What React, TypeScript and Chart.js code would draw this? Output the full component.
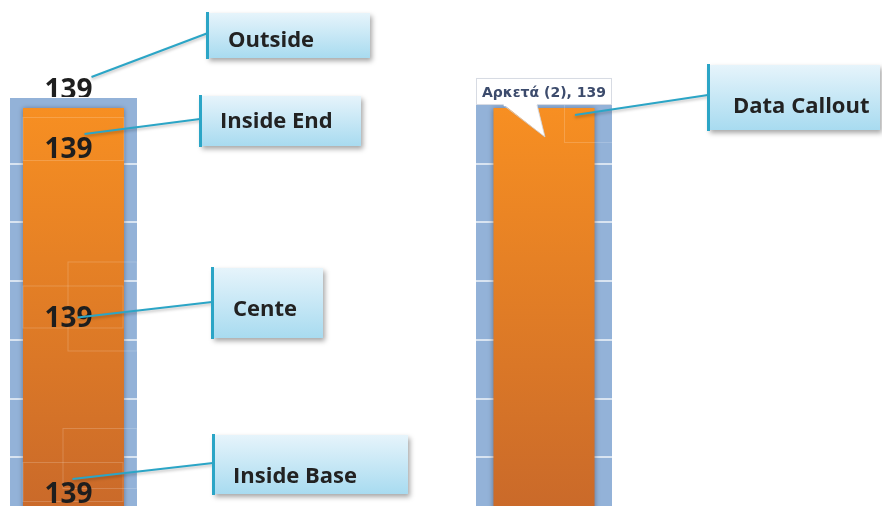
import React, { useEffect, useRef } from "react";
import { Chart, registerables } from "chart.js";

Chart.register(...registerables);

const categories = ["Αρκετά (2)"];
const values = [139];
const yMin = 0;
const yMax = 142.4;
const yStep = 20;
const positionNames = ["Outside", "Inside End", "Cente", "Inside Base"];
const calloutName = "Data Callout";

const BLUE = "#93b2d8";
const GRID = "#d9e4f1";
const TEAL = "#2ba5c6";

function barGradient(ctx: any) {
  const chart = ctx.chart;
  const area = chart.chartArea;
  if (!area) return "#f68d24";
  const ys = chart.scales.y;
  const g = chart.ctx.createLinearGradient(0, ys.getPixelForValue(values[0]), 0, ys.getPixelForValue(0));
  g.addColorStop(0, "#f78f22");
  g.addColorStop(1, "#c9692a");
  return g;
}

function drawBox(c: CanvasRenderingContext2D, x: number, y: number, w: number, h: number, text: string, tx: number, ty: number) {
  c.save();
  c.shadowColor = "rgba(0,0,0,0.35)";
  c.shadowBlur = 5;
  c.shadowOffsetX = 2;
  c.shadowOffsetY = 3;
  const g = c.createLinearGradient(0, y, 0, y + h);
  g.addColorStop(0, "#e6f4fb");
  g.addColorStop(1, "#a8dbf0");
  c.fillStyle = g;
  c.fillRect(x, y, w, h);
  c.restore();
  c.save();
  c.fillStyle = TEAL;
  c.fillRect(x - 1, y - 1, 3, h + 2);
  c.fillStyle = "#222222";
  c.font = 'bold 22px "Open Sans"';
  c.textAlign = "left";
  c.textBaseline = "alphabetic";
  c.fillText(text, tx, ty);
  c.restore();
}

function drawConnector(c: CanvasRenderingContext2D, x1: number, y1: number, x2: number, y2: number) {
  c.save();
  c.shadowColor = "rgba(0,0,0,0.25)";
  c.shadowBlur = 3;
  c.shadowOffsetY = 2;
  c.strokeStyle = TEAL;
  c.lineWidth = 2;
  c.beginPath();
  c.moveTo(x1, y1);
  c.lineTo(x2, y2);
  c.stroke();
  c.restore();
}

function faintRect(c: CanvasRenderingContext2D, x: number, y: number, w: number, h: number) {
  c.save();
  c.strokeStyle = "rgba(255,255,255,0.18)";
  c.lineWidth = 1;
  c.strokeRect(x + 0.5, y + 0.5, w, h);
  c.restore();
}

const bgPlugin = {
  id: "plotBg",
  beforeDraw(chart: any) {
    const { ctx, chartArea } = chart;
    ctx.save();
    ctx.fillStyle = BLUE;
    ctx.fillRect(chartArea.left, chartArea.top, chartArea.right - chartArea.left, chartArea.bottom - chartArea.top);
    ctx.restore();
  },
  beforeDatasetsDraw(chart: any) {
    const c = chart.ctx;
    c.save();
    c.shadowColor = "rgba(40,40,60,0.45)";
    c.shadowBlur = 5;
  },
  afterDatasetsDraw(chart: any) {
    chart.ctx.restore();
  },
};

const leftLabels = {
  id: "leftLabels",
  afterDraw(chart: any) {
    const c: CanvasRenderingContext2D = chart.ctx;
    const el = chart.getDatasetMeta(0).data[0];
    const x = el.x;
    const top = el.y;
    const base = el.base;
    const mid = (top + base) / 2;
    const cx = x - 5;
    const txt = String(values[0]);

    faintRect(c, x - 51, top + 9, 101, 43);
    faintRect(c, x - 51, mid - 26, 100, 42);
    faintRect(c, x - 6, mid - 50, 69, 89);
    faintRect(c, x - 51, base - 53, 100, 39);
    faintRect(c, x - 11, base - 87, 74, 60);

    c.save();
    c.fillStyle = "#1e1e1e";
    c.font = 'bold 28px "Open Sans"';
    c.textAlign = "center";
    c.textBaseline = "alphabetic";
    c.save();
    c.beginPath();
    c.rect(0, 0, 400, top - 11);
    c.clip();
    c.fillText(txt, cx, top - 9);
    c.restore();
    c.fillText(txt, cx, top + 50);
    c.fillText(txt, cx, mid + 16);
    c.fillText(txt, cx, base - 12);
    c.restore();

    drawConnector(c, cx + 23, top - 31, 208, 33);
    drawConnector(c, cx + 16, top + 26, 200, 119);
    drawConnector(c, cx + 9, mid + 6, 212, 302);
    drawConnector(c, cx + 4, base - 36, 213, 463);

    drawBox(c, 207, 13, 163, 45, positionNames[0], 228, 47);
    drawBox(c, 200, 96, 161, 50, positionNames[1], 220, 128);
    drawBox(c, 212, 268, 111, 70, positionNames[2], 233, 316);
    drawBox(c, 213, 435, 195, 59, positionNames[3], 233, 483);
  },
};

const rightLabels = {
  id: "rightLabels",
  afterDraw(chart: any) {
    const c: CanvasRenderingContext2D = chart.ctx;
    const area = chart.chartArea;
    const el = chart.getDatasetMeta(0).data[0];
    const x = el.x;
    const top = el.y;

    faintRect(c, x + 20, top - 4, 68, 38);

    const bx = area.left;
    const bw = area.right - area.left;
    const by = top - 30;
    const bh = 27;
    c.save();
    c.fillStyle = "#ffffff";
    c.strokeStyle = "rgba(205,210,220,0.8)";
    c.lineWidth = 1;
    c.fillRect(bx, by, bw, bh);
    c.strokeRect(bx + 0.5, by + 0.5, bw - 1, bh - 1);
    c.beginPath();
    c.moveTo(x - 41, by + bh - 1);
    c.lineTo(x + 1, top + 29);
    c.lineTo(x - 7, by + bh - 1);
    c.closePath();
    c.fill();
    c.beginPath();
    c.moveTo(x - 41, by + bh);
    c.lineTo(x + 1, top + 29);
    c.lineTo(x - 7, by + bh);
    c.stroke();
    c.fillStyle = "#ffffff";
    c.fillRect(x - 40, by + bh - 2, 32, 3);
    c.fillStyle = "#3c4b6c";
    c.font = 'bold 14px "DejaVu Sans"';
    c.textAlign = "left";
    c.textBaseline = "alphabetic";
    c.fillText(`${categories[0]}, ${values[0]}`, bx + 6, top - 11);
    c.restore();

    drawConnector(c, x + 31, top + 7, 708, 95);
    drawBox(c, 708, 65, 172, 65, calloutName, 733, 113);
  },
};

function makeConfig(padding: any, barPct: number, extra: any) {
  return {
    type: "bar" as const,
    data: {
      labels: categories,
      datasets: [
        {
          data: values,
          backgroundColor: barGradient,
          borderWidth: 0,
          barPercentage: barPct,
          categoryPercentage: 1,
        },
      ],
    },
    options: {
      responsive: false,
      animation: false as const,
      layout: { padding },
      plugins: { legend: { display: false }, tooltip: { enabled: false }, title: { display: false } },
      scales: {
        x: { display: false, offset: true },
        y: {
          display: true,
          min: yMin,
          max: yMax,
          border: { display: false },
          ticks: { display: false, stepSize: yStep },
          grid: {
            drawTicks: false,
            lineWidth: 2,
            color: (ctx: any) =>
              ctx.tick && ctx.tick.value % yStep === 0 && ctx.tick.value > 0 ? GRID : "rgba(0,0,0,0)",
          },
        },
      },
    },
    plugins: [bgPlugin, extra],
  };
}

export default function App() {
  const refA = useRef<HTMLCanvasElement>(null);
  const refB = useRef<HTMLCanvasElement>(null);

  useEffect(() => {
    const a = new Chart(refA.current as HTMLCanvasElement, makeConfig({ left: 10, right: 745, top: 98, bottom: 14 }, 0.795, leftLabels) as any);
    const b = new Chart(refB.current as HTMLCanvasElement, makeConfig({ left: 476, right: 270, top: 98, bottom: 14 }, 0.743, rightLabels) as any);
    return () => {
      a.destroy();
      b.destroy();
    };
  }, []);

  const canvasStyle: React.CSSProperties = { position: "absolute", left: 0, top: 0, width: 882, height: 530, display: "block" };

  return (
    <div style={{ position: "fixed", left: 0, top: 0, width: 882, height: 506, overflow: "hidden", background: "#ffffff" }}>
      <canvas ref={refA} width={882} height={530} style={canvasStyle} />
      <canvas ref={refB} width={882} height={530} style={canvasStyle} />
    </div>
  );
}
